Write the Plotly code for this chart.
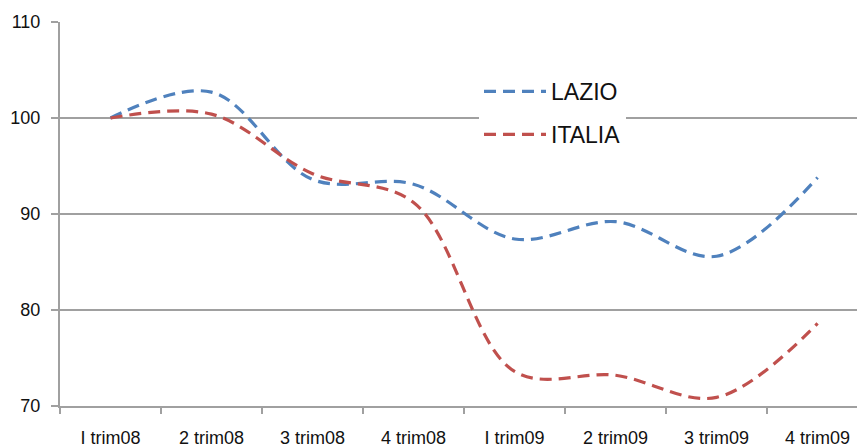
import plotly.graph_objects as go

categories = ["I trim08", "2 trim08", "3 trim08", "4 trim08",
              "I trim09", "2 trim09", "3 trim09", "4 trim09"]
lazio = [100, 102.7, 93.6, 93.1, 87.4, 89.2, 85.6, 93.8]
italia = [100, 100.4, 94.2, 91.2, 73.6, 73.2, 70.9, 78.6]

FONT = "Liberation Sans, Arial, sans-serif"
GRID = "#a0a0a0"

fig = go.Figure()
fig.add_trace(go.Scatter(
    x=categories, y=lazio, name="LAZIO", mode="lines",
    line=dict(color="#4f81bd", width=3.2, dash="12px,7px", shape="spline", smoothing=1.0),
    legendgroup="a"))
fig.add_trace(go.Scatter(
    x=categories, y=italia, name="ITALIA", mode="lines",
    line=dict(color="#c0504d", width=3.2, dash="12px,7px", shape="spline", smoothing=1.0),
    legendgroup="b"))

fig.update_layout(
    width=857, height=448,
    margin=dict(l=60, r=0, t=22, b=42),
    paper_bgcolor="white", plot_bgcolor="white",
    font=dict(family=FONT, size=18, color="#111111"),
    showlegend=True,
    legend=dict(
        x=(479 - 60) / 797, xanchor="left",
        y=1 - (70 - 22) / 384, yanchor="top",
        bgcolor="white", font=dict(size=23, family=FONT, color="#111111"),
        itemwidth=62, tracegroupgap=10, borderwidth=0,
        itemclick=False,
    ),
    xaxis=dict(
        type="category", range=[-0.5, 7.39],
        showgrid=False, showline=True, linecolor=GRID, linewidth=2,
        ticks="outside", tickson="boundaries", ticklen=6, tickcolor=GRID, tickwidth=2,
        tickfont=dict(size=18, family=FONT, color="#111111"),
        ticklabelstandoff=14, zeroline=False, fixedrange=True,
    ),
    yaxis=dict(
        range=[70, 110], dtick=10, tick0=70,
        showgrid=True, gridcolor=GRID, gridwidth=2,
        showline=True, linecolor=GRID, linewidth=2,
        ticks="outside", ticklen=7, tickcolor=GRID, tickwidth=2,
        tickfont=dict(size=18, family=FONT, color="#111111"),
        ticklabelstandoff=7, zeroline=False, fixedrange=True,
    ),
)

fig.write_html("out.html")
